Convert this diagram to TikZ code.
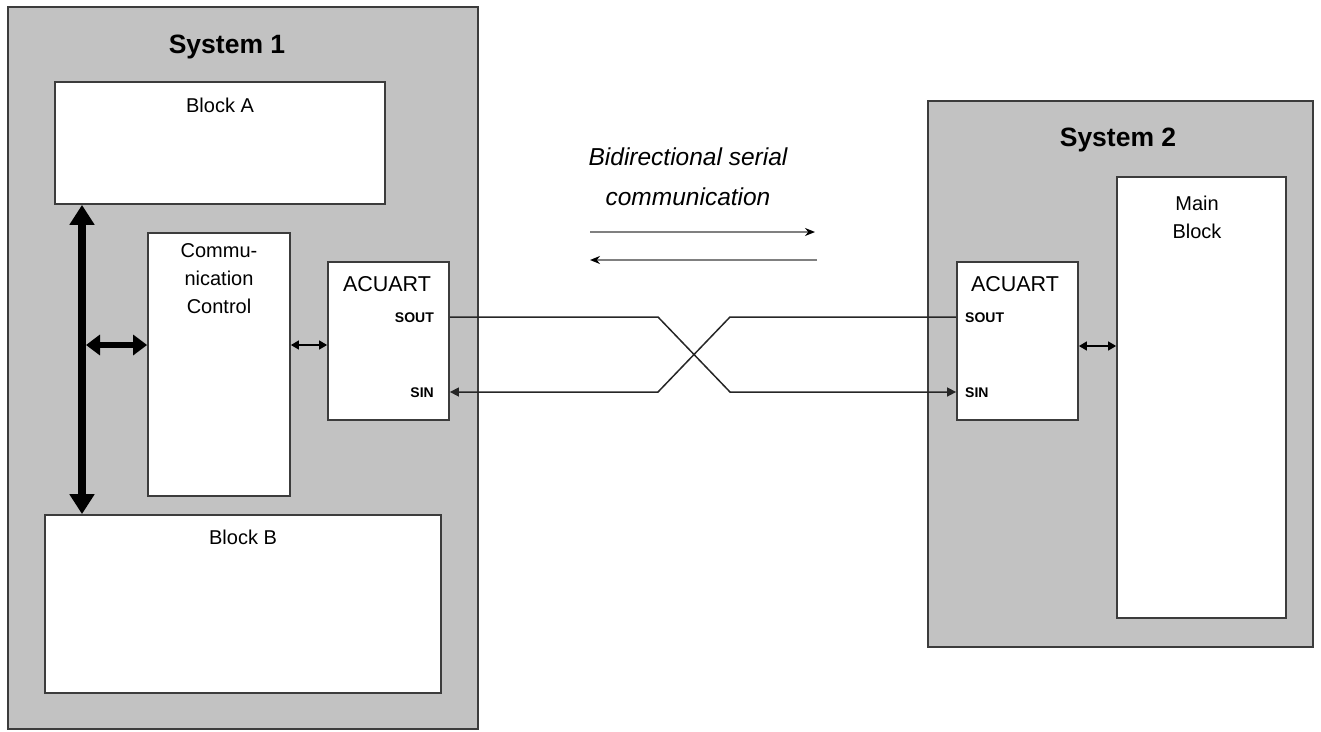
\documentclass[tikz,border=0pt]{standalone}
\usepackage{fontspec}
\setmainfont{Liberation Sans}
\usetikzlibrary{arrows.meta}
\definecolor{sysgray}{RGB}{194,194,194}
\definecolor{edgegray}{RGB}{60,60,60}
\tikzset{
  sysbox/.style={draw=edgegray, line width=1.8pt, fill=sysgray, minimum width=#1, inner sep=0pt},
  wbox/.style={draw=edgegray, line width=1.8pt, fill=white, inner sep=0pt},
  title/.style={font=\bfseries\fontsize{26.5}{30}\selectfont, inner sep=0pt},
  lbl/.style={font=\fontsize{20}{28}\selectfont, inner sep=0pt, align=center},
  acu/.style={font=\fontsize{21.5}{26}\selectfont, inner sep=0pt},
  pin/.style={font=\bfseries\fontsize{14}{16}\selectfont, inner sep=0pt},
  note/.style={font=\itshape\fontsize{24.5}{40}\selectfont, inner sep=0pt, align=center},
  bus/.style={line width=8pt, {Triangle[width=24pt,length=20pt]}-{Triangle[width=24pt,length=20pt]}},
  hbus/.style={line width=6pt, {Triangle[width=20pt,length=14pt]}-{Triangle[width=20pt,length=14pt]}},
  small/.style={line width=1.5pt, {Triangle[width=9pt,length=8pt]}-{Triangle[width=9pt,length=8pt]}},
  wire/.style={line width=1.5pt, draw=black!85},
  wireend/.style={wire, -{Triangle[width=9pt,length=9pt]}},
  commline/.style={line width=1.6pt, draw=gray},
}
\begin{document}
\begin{tikzpicture}[x=1pt,y=-1pt]
\useasboundingbox (0,0) rectangle (1321,731);
% outer systems
\node[sysbox=470pt, minimum height=722pt] (sys1) at (243,368) {};
\node[sysbox=385pt, minimum height=546pt] (sys2) at (1120.5,374) {};
\node[title] (t1) at (227,47) {System 1};
\node[title] (t2) at (1118,140) {System 2};
% inner boxes
\node[wbox, minimum width=330pt, minimum height=122pt] (blockA) at (220,143) {};
\node[wbox, minimum width=396pt, minimum height=178pt] (blockB) at (243,604) {};
\node[wbox, minimum width=142pt, minimum height=263pt] (comm) at (219,364.5) {};
\node[wbox, minimum width=121pt, minimum height=158pt] (acu1) at (388.5,341) {};
\node[wbox, minimum width=121pt, minimum height=158pt] (acu2) at (1017.5,341) {};
\node[wbox, minimum width=169pt, minimum height=441pt] (main) at (1201.5,397.5) {};
% labels
\node[lbl] (la) at (220,105) {Block A};
\node[lbl] (lb) at (243,537) {Block B};
\node[lbl, anchor=north] (lc) at (219,243) {Commu-\\nication\\Control};
\node[acu] (lu1) at (387,284) {ACUART};
\node[acu] (lu2) at (1015,284) {ACUART};
\node[pin, anchor=east] (so1) at (434,318) {SOUT};
\node[pin, anchor=east] (si1) at (434,393) {SIN};
\node[pin, anchor=west] (so2) at (965,318) {SOUT};
\node[pin, anchor=west] (si2) at (965,393) {SIN};
\node[lbl, anchor=north] (lm) at (1197,196) {Main\\Block};
\node[note] (bd) at (688,177) {Bidirectional serial\\communication};
% helper coordinates
\coordinate (busx) at (82,0);
\coordinate (hy) at (0,345);
\coordinate (hy2) at (0,346);
\coordinate (souty) at (0,317);
\coordinate (siny) at (0,392);
\coordinate (bendL) at (658,0);
\coordinate (bendR) at (730,0);
% bus arrows
\draw[bus] (blockA.south -| busx) -- (blockB.north -| busx);
\draw[hbus] ([xshift=4pt]busx |- hy) -- (comm.west |- hy);
\draw[small] (comm.east |- hy) -- (acu1.west |- hy);
\draw[small] (acu2.east |- hy2) -- (main.west |- hy2);
% serial wires
\draw[wireend] (acu1.east |- souty) -- (bendL |- souty) -- (bendR |- siny) -- (acu2.west |- siny);
\draw[wireend] (acu2.west |- souty) -- (bendR |- souty) -- (bendL |- siny) -- (acu1.east |- siny);
% legend arrows
\coordinate (r1a) at (590,232);
\coordinate (r1b) at (815,232);
\coordinate (r2a) at (817,260);
\coordinate (r2b) at (590,260);
\draw[commline, -{Stealth[width=8pt,length=10pt,black]}] (r1a) -- (r1b);
\draw[commline, -{Stealth[width=8pt,length=10pt,black]}] (r2a) -- (r2b);
\end{tikzpicture}
\end{document}
